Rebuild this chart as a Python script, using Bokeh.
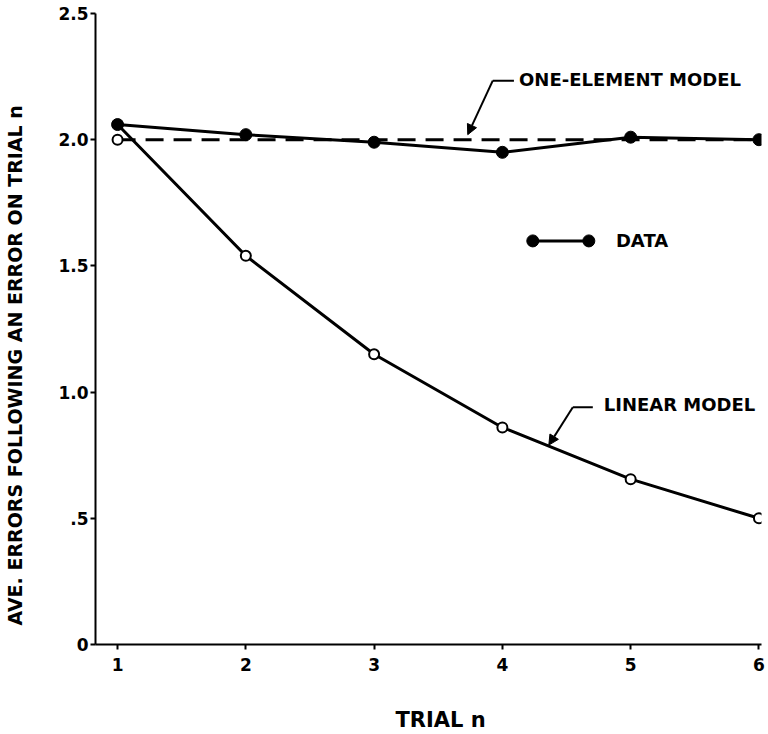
from bokeh.plotting import figure
from bokeh.models import FixedTicker, Range1d, Label, Arrow, NormalHead, Title
from bokeh.embed import file_html
from bokeh.resources import INLINE

# ---- data ----
trials = [1, 2, 3, 4, 5, 6]
data_errors = [2.06, 2.02, 1.99, 1.95, 2.01, 2.00]
linear_model = [2.00, 1.54, 1.15, 0.86, 0.655, 0.50]
one_element_model = [2.0, 2.0, 2.0, 2.0, 2.0, 2.0]
x_ticks = [1, 2, 3, 4, 5, 6]
x_tick_labels = ["1", "2", "3", "4", "5", "6"]
y_ticks = [0, 0.5, 1.0, 1.5, 2.0, 2.5]
y_tick_labels = ["0", ".5", "1.0", "1.5", "2.0", "2.5"]

FONT = "DejaVu Sans"

p = figure(width=768, height=734, output_backend="svg", toolbar_location=None,
           x_range=Range1d(0.828, 6.02), y_range=Range1d(0, 2.5),
           min_border_left=95, min_border_right=7, min_border_top=13,
           min_border_bottom=90)
p.outline_line_color = None
p.grid.visible = False
p.background_fill_color = "white"
p.border_fill_color = "white"

for ax in (p.xaxis[0], p.yaxis[0]):
    ax.axis_line_width = 2
    ax.axis_line_color = "black"
    ax.major_tick_line_width = 2
    ax.major_tick_line_color = "black"
    ax.major_tick_in = 0
    ax.major_tick_out = 5
    ax.minor_tick_line_color = None
    ax.major_label_text_font = FONT
    ax.major_label_text_font_style = "bold"
    ax.major_label_text_font_size = "17px"
    ax.major_label_text_color = "black"
    # tiny blank axis label only reserves space so that the titles sit further out
    ax.axis_label = " "
    ax.axis_label_text_font_size = "1px"

p.xaxis[0].ticker = FixedTicker(ticks=x_ticks)
p.xaxis[0].major_label_overrides = {t: l for t, l in zip(x_ticks, x_tick_labels)}
p.xaxis[0].major_label_standoff = 8
p.xaxis[0].axis_label_standoff = 29

p.yaxis[0].ticker = FixedTicker(ticks=y_ticks)
p.yaxis[0].major_label_overrides = {t: l for t, l in zip(y_ticks, y_tick_labels)}
p.yaxis[0].major_label_standoff = 2
p.yaxis[0].axis_label_standoff = 25

# axis titles as side titles (allows offsetting along the axis)
xt = Title(text="TRIAL n", text_font=FONT, text_font_style="bold",
           text_font_size="21px", text_color="black", align="left",
           vertical_align="top", offset=300, standoff=2)
p.add_layout(xt, "below")
yt = Title(text="AVE. ERRORS FOLLOWING AN ERROR ON TRIAL n", text_font=FONT,
           text_font_style="bold", text_font_size="19px", text_color="black",
           align="left", vertical_align="bottom", offset=19, standoff=2)
p.add_layout(yt, "left")

# one-element model (dashed)
p.line(trials, one_element_model, line_color="black", line_width=3, line_dash="18 10")

# linear model curve (starts from first observed point)
lin_x = trials
lin_y = [data_errors[0]] + linear_model[1:]
p.line(lin_x, lin_y, line_color="black", line_width=3)
p.scatter(trials, linear_model, size=10, marker="circle", fill_color="white",
          line_color="black", line_width=2)

# data
p.line(trials, data_errors, line_color="black", line_width=3)
p.scatter(trials, data_errors, size=12, marker="circle", fill_color="black",
          line_color="black")

# ---- annotations ----
def lab(x, y, t):
    p.add_layout(Label(x=x, y=y, text=t, text_font=FONT, text_font_style="bold",
                       text_font_size="18px", text_color="black",
                       text_baseline="middle", text_align="left"))

# one-element model label
lab(4.13, 2.238, "ONE-ELEMENT MODEL")
p.segment(x0=[3.925], y0=[2.234], x1=[4.09], y1=[2.234], line_color="black", line_width=2)
p.add_layout(Arrow(end=NormalHead(size=10, fill_color="black", line_color="black"),
                   x_start=3.925, y_start=2.234, x_end=3.73, y_end=2.02,
                   line_color="black", line_width=2))

# data legend
legend_x = [4.237, 4.674]
legend_y = [1.599, 1.599]
p.line(legend_x, legend_y, line_color="black", line_width=3)
p.scatter(legend_x, legend_y, size=12, marker="circle", fill_color="black", line_color="black")
lab(4.885, 1.599, "DATA")

# linear model label
lab(4.79, 0.952, "LINEAR MODEL")
p.segment(x0=[4.549], y0=[0.94], x1=[4.705], y1=[0.94], line_color="black", line_width=2)
p.add_layout(Arrow(end=NormalHead(size=10, fill_color="black", line_color="black"),
                   x_start=4.549, y_start=0.94, x_end=4.362, y_end=0.79,
                   line_color="black", line_width=2))

open("out.html", "w").write(file_html(p, INLINE))
